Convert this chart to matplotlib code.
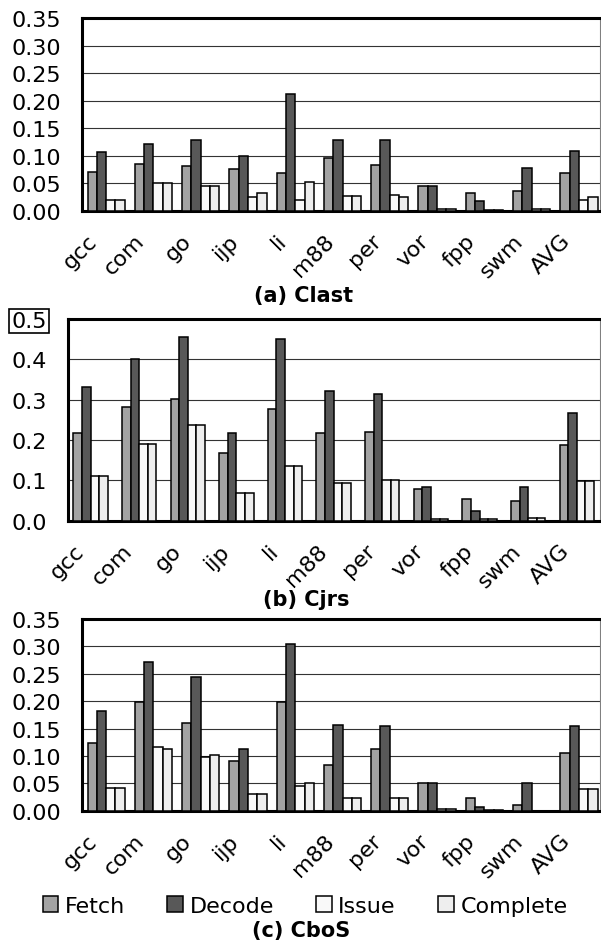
import numpy as np
import matplotlib
matplotlib.use("Agg")
import matplotlib.pyplot as plt

plt.rcParams["font.family"] = ["DejaVu Sans"]

BENCHES = ["gcc", "com", "go", "ijp", "li", "m88", "per", "vor", "fpp", "swm", "AVG"]
STAGES = ["Fetch", "Decode", "Issue", "Complete"]
COLORS = ["#a3a3a3", "#585858", "#f9f9f9", "#eeeeee"]

# (a) Clast
CLAST_FETCH = [0.071, 0.085, 0.082, 0.075, 0.068, 0.096, 0.083, 0.045, 0.032, 0.035, 0.068]
CLAST_DECODE = [0.107, 0.122, 0.129, 0.100, 0.212, 0.129, 0.129, 0.045, 0.017, 0.078, 0.108]
CLAST_ISSUE = [0.020, 0.051, 0.045, 0.024, 0.020, 0.027, 0.028, 0.003, 0.001, 0.003, 0.020]
CLAST_COMPLETE = [0.020, 0.051, 0.045, 0.032, 0.053, 0.027, 0.024, 0.003, 0.001, 0.003, 0.024]

# (b) Cjrs
CJRS_FETCH = [0.217, 0.281, 0.301, 0.167, 0.276, 0.217, 0.221, 0.078, 0.053, 0.048, 0.187]
CJRS_DECODE = [0.331, 0.401, 0.455, 0.217, 0.450, 0.321, 0.315, 0.083, 0.024, 0.083, 0.266]
CJRS_ISSUE = [0.112, 0.191, 0.236, 0.068, 0.136, 0.093, 0.102, 0.004, 0.004, 0.007, 0.098]
CJRS_COMPLETE = [0.112, 0.191, 0.236, 0.068, 0.136, 0.093, 0.102, 0.004, 0.004, 0.007, 0.098]

# (c) CboS
CBOS_FETCH = [0.124, 0.198, 0.160, 0.090, 0.198, 0.084, 0.113, 0.050, 0.024, 0.010, 0.105]
CBOS_DECODE = [0.182, 0.271, 0.245, 0.112, 0.304, 0.156, 0.154, 0.050, 0.006, 0.050, 0.154]
CBOS_ISSUE = [0.042, 0.117, 0.098, 0.031, 0.046, 0.024, 0.024, 0.003, 0.001, 0.000, 0.039]
CBOS_COMPLETE = [0.042, 0.113, 0.102, 0.031, 0.050, 0.024, 0.024, 0.003, 0.001, 0.000, 0.039]

W, H = 601, 945
FS = 16

PANELS = [
    # rect in px: left, top, right, bottom; pads in px left/right of the bars
    dict(series=[CLAST_FETCH, CLAST_DECODE, CLAST_ISSUE, CLAST_COMPLETE], ymax=0.35, ystep=0.05, fmt="%.2f",
         rect=(82, 19, 600, 211.7), bw=0.197, pads=(5.5, 2.5), shift=19, title="(a) Clast", tpos=(304, 296)),
    dict(series=[CJRS_FETCH, CJRS_DECODE, CJRS_ISSUE, CJRS_COMPLETE], ymax=0.5, ystep=0.1, fmt="%.1f",
         rect=(68, 320, 600, 521.7), bw=0.177, pads=(5.3, 6), shift=17, title="(b) Cjrs", tpos=(306, 600)),
    dict(series=[CBOS_FETCH, CBOS_DECODE, CBOS_ISSUE, CBOS_COMPLETE], ymax=0.35, ystep=0.05, fmt="%.2f",
         rect=(82, 620, 600, 811.7), bw=0.197, pads=(5.5, 2.5), shift=19, title="(c) CboS", tpos=(301, 931)),
]

fig = plt.figure(figsize=(W / 100, H / 100), dpi=100)

x = np.arange(len(BENCHES))
handles = None
for p in PANELS:
    l, t, r, b = p["rect"]
    ax = fig.add_axes([l / W, 1 - b / H, (r - l) / W, (b - t) / H])
    bw = p["bw"]
    bars = []
    for k, vals in enumerate(p["series"]):
        bars.append(ax.bar(x + k * bw, vals, bw, align="edge", color=COLORS[k],
                           edgecolor="black", linewidth=1.1, zorder=3, label=STAGES[k]))
    handles = bars

    pl, pr = p["pads"]
    pitch_px = (r - l - pl - pr) / (10 + 4 * bw)
    lo = -pl / pitch_px
    hi = 10 + 4 * bw + pr / pitch_px
    ax.set_xlim(lo, hi)
    ax.set_ylim(0, p["ymax"])

    yt = np.arange(0, p["ymax"] + 1e-9, p["ystep"])
    ax.set_yticks(yt)
    ax.set_yticklabels([p["fmt"] % v for v in yt], fontsize=FS)
    ax.yaxis.grid(True, color="#333333", linewidth=0.8, zorder=0)
    ax.set_axisbelow(True)
    ax.tick_params(axis="y", length=0, pad=15)

    # labels end a little left of each group centre
    ax.set_xticks(x + 2 * bw - p["shift"] / pitch_px)
    ax.set_xticklabels(BENCHES, fontsize=FS)
    ax.tick_params(axis="x", length=0, pad=14)
    plt.setp(ax.get_xticklabels(), rotation=45, ha="right", rotation_mode="anchor")

    for s in ["top", "left", "bottom"]:
        ax.spines[s].set_linewidth(2.2)
        ax.spines[s].set_color("black")
    ax.spines["right"].set_linewidth(0.8)
    ax.spines["right"].set_color("#808080")

    if p["ymax"] > 0.4:
        top_lbl = ax.get_yticklabels()[-1]
        top_lbl.set_bbox(dict(boxstyle="square,pad=0.1", facecolor="none", edgecolor="black", linewidth=1.2))

    fig.text(p["tpos"][0] / W, 1 - p["tpos"][1] / H, p["title"], ha="center", va="center",
             fontsize=15, fontweight="bold")

fig.legend(handles=handles, labels=STAGES, loc="center", bbox_to_anchor=(305 / W, 1 - 907 / H),
           ncol=4, frameon=False, fontsize=FS, handlelength=0.7, handleheight=0.7,
           handletextpad=0.3, columnspacing=1.9, borderpad=0)

fig.savefig("out.png", dpi=100)
